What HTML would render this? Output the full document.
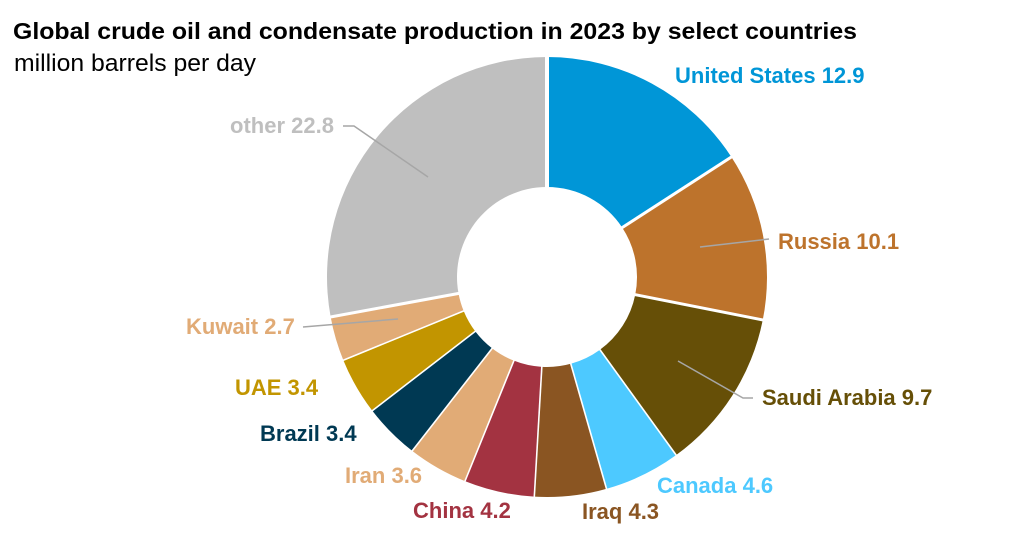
<!DOCTYPE html>
<html>
<head>
<meta charset="utf-8">
<style>
  html,body{margin:0;padding:0;background:#fff;}
  svg{display:block;}
  text{font-family:"Liberation Sans",Arial,sans-serif;}
  .lbl{font-size:22px;font-weight:bold;}
</style>
</head>
<body>
<svg width="1015" height="539" viewBox="0 0 1015 539" xmlns="http://www.w3.org/2000/svg">
  <rect width="1015" height="539" fill="#fff"/>
  <text x="13" y="39" font-size="23" font-weight="bold" fill="#000" textLength="844" lengthAdjust="spacingAndGlyphs">Global crude oil and condensate production in 2023 by select countries</text>
  <text x="14" y="71" font-size="24" fill="#000" textLength="242" lengthAdjust="spacingAndGlyphs">million barrels per day</text>

  <!-- slices -->
  <path d="M547,57 A220,220 0 0 1 731.14,156.62 L622.33,227.75 A90,90 0 0 0 547,187 Z" fill="#0096d7"/>
  <path d="M731.14,156.62 A220,220 0 0 1 762.70,320.30 L635.24,294.71 A90,90 0 0 0 622.33,227.75 Z" fill="#bd732c"/>
  <path d="M762.70,320.30 A220,220 0 0 1 676.04,455.18 L599.79,349.89 A90,90 0 0 0 635.24,294.71 Z" fill="#664f07"/>
  <path d="M676.04,455.18 A220,220 0 0 1 606.31,488.86 L571.26,363.67 A90,90 0 0 0 599.79,349.89 Z" fill="#4dc9ff"/>
  <path d="M606.31,488.86 A220,220 0 0 1 534.30,496.63 L541.80,366.85 A90,90 0 0 0 571.26,363.67 Z" fill="#8a5522"/>
  <path d="M534.30,496.63 A220,220 0 0 1 465.27,481.25 L513.56,360.56 A90,90 0 0 0 541.80,366.85 Z" fill="#a33341"/>
  <path d="M465.27,481.25 A220,220 0 0 1 412.56,451.15 L492.00,348.24 A90,90 0 0 0 513.56,360.56 Z" fill="#e1ab76"/>
  <path d="M412.56,451.15 A220,220 0 0 1 372.15,410.52 L475.47,331.62 A90,90 0 0 0 492.00,348.24 Z" fill="#003953"/>
  <path d="M372.15,410.52 A220,220 0 0 1 343.54,360.70 L463.77,311.24 A90,90 0 0 0 475.47,331.62 Z" fill="#c29500"/>
  <path d="M343.54,360.70 A220,220 0 0 1 330.66,316.94 L458.50,293.34 A90,90 0 0 0 463.77,311.24 Z" fill="#e1ab76"/>
  <path d="M330.66,316.94 A220,220 0 0 1 547,57 L547,187 A90,90 0 0 0 458.50,293.34 Z" fill="#bfbfbf"/>

  <!-- separators -->
  <g stroke="#fff" stroke-linecap="butt">
    <line x1="547" y1="190" x2="547" y2="52" stroke-width="4"/>
    <line x1="620" y1="229" x2="736" y2="154" stroke-width="3"/>
    <line x1="632" y1="294" x2="768" y2="321" stroke-width="3"/>
    <line x1="598" y1="347" x2="679" y2="459" stroke-width="1.6"/>
    <line x1="570" y1="361" x2="608" y2="494" stroke-width="1.6"/>
    <line x1="542" y1="364" x2="534" y2="502" stroke-width="1.6"/>
    <line x1="515" y1="358" x2="463" y2="486" stroke-width="1.6"/>
    <line x1="494" y1="346" x2="409" y2="455" stroke-width="1.6"/>
    <line x1="477" y1="330" x2="368" y2="414" stroke-width="1.6"/>
    <line x1="466" y1="310" x2="339" y2="362" stroke-width="1.6"/>
    <line x1="461" y1="293" x2="325" y2="318" stroke-width="3"/>
  </g>

  <!-- leader lines -->
  <g stroke="#a6a6a6" stroke-width="1.5" fill="none">
    <polyline points="700,247 769,239"/>
    <polyline points="678,361 743,398 753,398"/>
    <polyline points="303,327 398,319"/>
    <polyline points="343,126 354,126 428,177"/>
  </g>

  <!-- labels -->
  <text class="lbl" x="675" y="83" fill="#0096d7">United States 12.9</text>
  <text class="lbl" x="778" y="249" fill="#bd732c">Russia 10.1</text>
  <text class="lbl" x="762" y="405" fill="#664f07">Saudi Arabia 9.7</text>
  <text class="lbl" x="657" y="493" fill="#4dc9ff">Canada 4.6</text>
  <text class="lbl" x="582" y="519" fill="#8a5522">Iraq 4.3</text>
  <text class="lbl" x="413" y="518" fill="#a33341">China 4.2</text>
  <text class="lbl" x="345" y="483" fill="#e1ab76">Iran 3.6</text>
  <text class="lbl" x="260" y="441" fill="#003953">Brazil 3.4</text>
  <text class="lbl" x="235" y="395" fill="#c29500">UAE 3.4</text>
  <text class="lbl" x="186" y="334" fill="#e1ab76">Kuwait 2.7</text>
  <text class="lbl" x="230" y="133" fill="#bfbfbf">other 22.8</text>
</svg>
</body>
</html>
